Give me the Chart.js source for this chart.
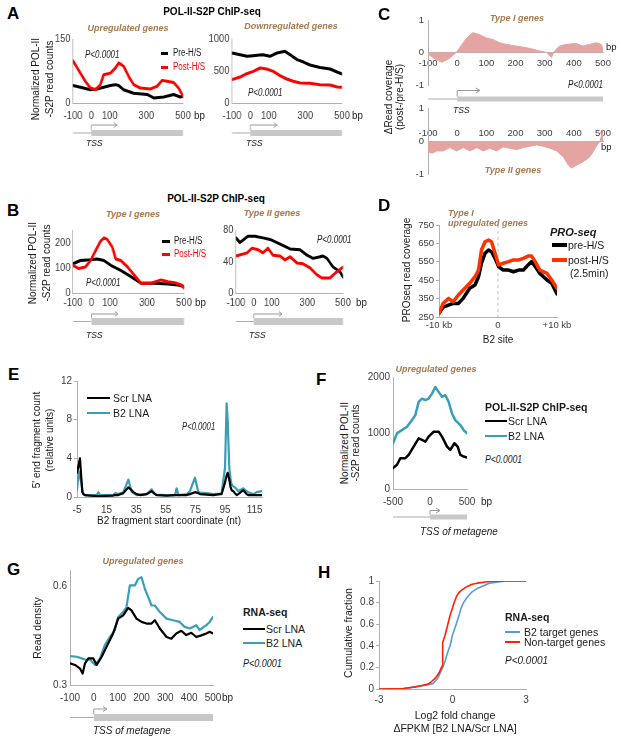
<!DOCTYPE html>
<html>
<head>
<meta charset="utf-8">
<script src="https://cdn.jsdelivr.net/npm/chart.js@4.4.1/dist/chart.umd.min.js"></script>
<style>
html, body { margin: 0; padding: 0; background: #fff; }
#fig { position: relative; width: 621px; height: 743px; overflow: hidden; background: #fff; font-family: Arial, "Liberation Sans", sans-serif; }
#fig canvas { position: absolute; }
.t { position: absolute; white-space: nowrap; line-height: 1; }
</style>
</head>
<body>
<div id="fig"></div>
<script>
// ---- data: panel A (POL-II-S2P, upregulated / downregulated) ----
const A_X_TICKS = [-100, 0, 100, 300, 500];
const A1_Y_TICKS = [0, 150];
const A1_X_POST = [-100, -60, -33, -5, 22, 49, 67, 104, 131, 149, 176, 204, 231, 267, 322, 358, 386, 413, 449, 476, 500];
const A1_POST = [99, 70, 51, 35, 31, 43, 66, 70, 82, 94, 86, 62, 43, 35, 33, 39, 53, 51, 48, 35, 16];
const A1_X_PRE = [-100, -60, -5, 31, 67, 104, 131, 149, 176, 231, 304, 340, 395, 449, 485, 500];
const A1_PRE = [41, 37, 31, 33, 37, 41, 43, 41, 31, 23, 20, 12, 14, 20, 14, 16];
const A2_Y_TICKS = [0, 500, 1000];
const A2_X_PRE = [-100, -56, -18, 15, 50, 69, 107, 145, 189, 216, 255, 290, 325, 380, 435, 473, 500];
const A2_PRE = [781, 755, 729, 740, 750, 755, 729, 781, 807, 755, 677, 640, 594, 555, 531, 484, 453];
const A2_X_POST = [-100, -56, -20, 16, 53, 89, 125, 162, 198, 234, 271, 325, 380, 435, 473, 500];
const A2_POST = [365, 406, 458, 495, 547, 531, 495, 427, 375, 339, 313, 310, 286, 281, 250, 245];

// ---- panel B (type I / type II genes) ----
const B1_Y_TICKS = [0, 100, 200];
const B1_X_POST = [-100, -69, -33, -5, 22, 49, 67, 85, 113, 131, 158, 195, 231, 267, 322, 376, 413, 449, 485, 500];
const B1_POST = [110, 97, 103, 129, 168, 206, 219, 213, 181, 135, 129, 103, 71, 39, 39, 52, 45, 41, 32, 19];
const B1_X_PRE = [-100, -60, -5, 31, 67, 104, 158, 213, 267, 340, 413, 467, 500];
const B1_PRE = [116, 129, 132, 135, 129, 110, 90, 65, 39, 39, 36, 32, 26];
const B2_Y_TICKS = [0, 40, 80];
const B2_X_PRE = [-100, -78, -33, 6, 51, 91, 147, 203, 259, 298, 332, 371, 388, 410, 444, 483, 500];
const B2_PRE = [70, 64, 72, 72, 70, 68, 62, 56, 55, 48, 44, 46, 47, 44, 33, 27, 20];
const B2_X_POST = [-100, -38, -10, 23, 51, 79, 107, 147, 175, 203, 242, 276, 315, 354, 382, 427, 455, 500];
const B2_POST = [47, 51, 57, 55, 51, 57, 48, 47, 42, 46, 38, 37, 32, 23, 19, 19, 25, 33];

// ---- panel C (difference post - pre) ----
const C_X_TICKS = [-100, 0, 100, 200, 300, 400, 500];
const C_Y_TICKS = [-1, 0, 1];
const C1_X = [-100, -75, -53, -30, -3, 31, 54, 77, 100, 123, 145, 168, 202, 237, 260, 283, 306, 323, 334, 351, 374, 408, 431, 454, 477, 494, 500];
const C1_Y = [-0.05, -0.2, -0.3, -0.2, 0, 0.43, 0.61, 0.55, 0.45, 0.4, 0.3, 0.25, 0.2, 0.15, 0.1, 0.05, 0, -0.15, 0.05, 0.2, 0.25, 0.28, 0.2, 0.25, 0.3, 0.25, 0.1];
const C2_X = [-100, -85, -70, -48, -25, -2, 21, 44, 67, 90, 112, 135, 158, 181, 204, 227, 250, 272, 295, 318, 341, 364, 381, 392, 410, 432, 455, 478, 490, 500];
const C2_Y = [-0.33, -0.37, -0.3, -0.3, -0.2, -0.3, -0.2, -0.3, -0.2, -0.3, -0.22, -0.3, -0.18, -0.22, -0.26, -0.2, -0.16, -0.12, -0.16, -0.22, -0.3, -0.48, -0.73, -0.82, -0.73, -0.63, -0.48, -0.15, 0, 0.35];

// ---- panel D (PRO-seq around B2 site, kb) ----
const D_X_TICKS = [-10, 0, 10];
const D_X_LABELS = ['-10 kb', '0', '+10 kb'];
const D_Y_TICKS = [250, 350, 450, 550, 650, 750];
const D_X = [-10, -9.3, -8.4, -7.6, -6.7, -5.9, -4.8, -3.9, -3.3, -2.8, -2.2, -1.6, -1.1, -0.5, 0.1, 0.9, 1.8, 2.6, 3.5, 4.3, 5.1, 5.7, 6.3, 7.1, 8.3, 9.1, 10];
const D_PRE = [270, 303, 315, 324, 324, 351, 406, 424, 469, 542, 596, 614, 605, 569, 524, 505, 505, 496, 505, 505, 533, 551, 524, 487, 451, 433, 375];
const D_POST = [270, 324, 351, 333, 370, 397, 433, 469, 505, 614, 659, 668, 659, 596, 533, 542, 551, 560, 560, 569, 581, 581, 551, 505, 487, 451, 406];

// ---- panel E (5' end fragment counts) ----
const E_X_TICKS = [-5, 15, 35, 55, 75, 95, 115];
const E_Y_TICKS = [0, 4, 8, 12];
const E_X = [-5, -3.9, -3, -2.1, -1.4, -0.7, 0.4, 3.8, 8.3, 9.4, 10.5, 19.5, 20.7, 22.9, 26.3, 29.7, 32, 33.1, 35.3, 37.6, 42.1, 45.4, 47.7, 48.8, 55.6, 61.2, 62.3, 63.5, 69.1, 71.3, 74.7, 77, 78.1, 82.6, 87.1, 91.6, 92.7, 95, 96.1, 96.8, 97.9, 98.8, 99.5, 100.6, 101.7, 102.9, 104, 107.4, 109.6, 110.7, 114.1, 116.4, 119.8];
const E_B2 = [0.7, 2.6, 2.0, 1.5, 0.8, 0.3, 0.2, 0.2, 0.2, 0.5, 0.2, 0.2, 0.4, 0.3, 0.5, 1.8, 0.5, 0.4, 0.2, 0.25, 0.3, 0.8, 0.3, 0.25, 0.2, 0.2, 0.9, 0.2, 0.3, 0.6, 2.0, 0.5, 0.45, 0.4, 0.3, 0.35, 0.4, 3.0, 9.7, 8.0, 3.0, 1.8, 1.3, 1.1, 1.0, 0.8, 0.6, 0.9, 0.6, 0.5, 0.3, 0.5, 0.6];
const E_SCR = [2.5, 3.3, 4.0, 2.0, 0.5, 0.3, 0.2, 0.15, 0.1, 0.1, 0.1, 0.15, 0.2, 0.2, 0.4, 1.0, 0.7, 0.5, 0.3, 0.2, 0.3, 0.6, 0.3, 0.2, 0.15, 0.2, 0.2, 0.2, 0.2, 0.3, 0.5, 0.4, 0.3, 0.25, 0.2, 0.3, 0.3, 1.5, 2.2, 2.5, 1.8, 1.0, 0.7, 0.6, 0.4, 0.2, 0.3, 0.7, 0.3, 0.2, 0.2, 0.2, 0.2];

// ---- panel F (POL-II-S2P, LNA) ----
const F_X_TICKS = [-500, 0, 500];
const F_Y_TICKS = [0, 1000, 2000];
const F_X_B2 = [-500, -446, -378, -311, -243, -198, -153, -108, -63, -18, 27, 72, 117, 162, 207, 252, 297, 342, 410, 455, 500];
const F_B2 = [817, 994, 1053, 1112, 1231, 1320, 1556, 1615, 1586, 1615, 1704, 1822, 1734, 1645, 1675, 1556, 1349, 1231, 1142, 1053, 994];
const F_X_SCR = [-500, -446, -401, -333, -288, -221, -153, -108, -63, -18, 50, 117, 162, 230, 275, 329, 374, 410, 455, 500];
const F_SCR = [373, 432, 550, 550, 609, 757, 905, 876, 846, 935, 1024, 1024, 935, 757, 698, 817, 757, 609, 580, 562];

// ---- panel G (RNA-seq read density) ----
const G_X_TICKS = [-100, 0, 100, 200, 300, 400, 500];
const G_Y_TICKS = [0.3, 0.6];
const G_X_B2 = [-100, -72, -51, -30, -16, 5, 26, 46, 67, 88, 102, 123, 137, 151, 172, 186, 200, 214, 228, 242, 256, 277, 305, 332, 360, 381, 402, 430, 444, 461, 472, 486, 500];
const G_B2 = [0.388, 0.386, 0.381, 0.376, 0.378, 0.361, 0.381, 0.421, 0.446, 0.467, 0.507, 0.522, 0.537, 0.603, 0.603, 0.623, 0.628, 0.593, 0.568, 0.542, 0.542, 0.522, 0.502, 0.497, 0.492, 0.477, 0.472, 0.482, 0.467, 0.477, 0.482, 0.492, 0.507];
const G_X_SCR = [-100, -79, -58, -47, -37, -23, -2, 12, 33, 53, 81, 102, 123, 144, 158, 179, 200, 221, 242, 256, 277, 305, 325, 346, 367, 388, 409, 430, 451, 472, 486, 500];
const G_SCR = [0.366, 0.361, 0.350, 0.335, 0.366, 0.381, 0.381, 0.361, 0.386, 0.416, 0.457, 0.502, 0.512, 0.535, 0.527, 0.502, 0.492, 0.487, 0.487, 0.497, 0.472, 0.446, 0.441, 0.457, 0.465, 0.452, 0.459, 0.446, 0.451, 0.457, 0.462, 0.457];

// ---- panel H (cumulative fraction) ----
const H_X_TICKS = [-3, 0, 3];
const H_Y_TICKS = [0, 0.2, 0.4, 0.6, 0.8, 1];
const H_X_RED = [-3, -2, -1.5, -1.2, -1, -0.9, -0.7, -0.55, -0.45, -0.4, -0.4, -0.3, -0.2, -0.1, 0, 0.05, 0.15, 0.25, 0.4, 0.6, 0.8, 1.0, 1.5, 2, 3];
const H_RED = [0, 0.005, 0.02, 0.035, 0.045, 0.06, 0.1, 0.15, 0.2, 0.22, 0.43, 0.5, 0.59, 0.68, 0.75, 0.79, 0.85, 0.89, 0.92, 0.95, 0.97, 0.98, 0.995, 1, 1];
const H_X_BLUE = [-3, -2, -1.5, -1, -0.8, -0.6, -0.5, -0.4, -0.3, -0.25, -0.15, -0.1, 0, 0.15, 0.29, 0.35, 0.45, 0.6, 0.8, 1.0, 1.2, 1.5, 2.2, 3];
const H_BLUE = [0, 0.005, 0.02, 0.04, 0.05, 0.1, 0.15, 0.2, 0.26, 0.3, 0.37, 0.4, 0.5, 0.6, 0.7, 0.75, 0.8, 0.85, 0.9, 0.93, 0.95, 0.98, 1, 1];

// ---- styles ----
const RED = '#ff0000';
const TEAL = '#3a9fb6';
const PINK = '#e3a4a2';
const AXIS = '#b0b0b0';
const TICK = '#3c3c3c';
const BROWN = '#a47a4e';

Chart.defaults.animation = false;
Chart.defaults.responsive = false;
Chart.defaults.font.family = 'Arial, "Liberation Sans", sans-serif';
Chart.defaults.plugins.legend.display = false;
Chart.defaults.plugins.tooltip.enabled = false;
Chart.defaults.elements.point.radius = 0;
Chart.defaults.elements.line.tension = 0;

const fig = document.getElementById('fig');

function xy(xs, ys) {
    return xs.map((x, i) => ({ x: x, y: ys[i] }));
}

function ds(xs, ys, color, width) {
    return { data: xy(xs, ys), borderColor: color, borderWidth: width, fill: false, borderJoinStyle: 'round', borderCapStyle: 'round' };
}

function scale(min, max, ticks, o = {}) {
    const s = {
        type: 'linear', min: min, max: max,
        afterBuildTicks: sc => { sc.ticks = ticks.map(v => ({ value: v })); },
        grid: { drawOnChartArea: false, drawTicks: !!o.tick, tickLength: o.tick || 0, color: AXIS },
        border: { display: true, color: AXIS, width: 1 },
        ticks: { color: TICK, font: { size: o.size || 10 }, padding: o.pad === undefined ? 3 : o.pad,
                 autoSkip: false, maxRotation: 0, callback: o.fmt || (v => String(v)) }
    };
    if (o.pos) s.position = o.pos;
    return s;
}

// gene model under the x axis: thin line upstream, grey box from TSS, bent arrow
const genePlugin = {
    id: 'gene',
    afterDraw(chart, args, o) {
        if (o.off === undefined) return;
        const ctx = chart.ctx, a = chart.chartArea, x = chart.scales.x;
        const x0 = x.getPixelForValue(0), x1 = x.getPixelForValue(o.arrow);
        const yc = a.bottom + o.off, top = yc - o.h / 2, ya = top - o.up;
        ctx.save();
        ctx.strokeStyle = '#ababab';
        ctx.lineWidth = 1;
        ctx.beginPath(); ctx.moveTo(a.left, yc); ctx.lineTo(x0, yc); ctx.stroke();
        ctx.fillStyle = '#c8c8c8';
        ctx.fillRect(x0, top, a.right - x0, o.h);
        ctx.strokeStyle = '#999999';
        ctx.beginPath(); ctx.moveTo(x0, top); ctx.lineTo(x0, ya); ctx.lineTo(x1, ya); ctx.stroke();
        ctx.beginPath(); ctx.moveTo(x1 - 4, ya - 2.5); ctx.lineTo(x1, ya); ctx.lineTo(x1 - 4, ya + 2.5); ctx.stroke();
        ctx.restore();
    }
};

// dashed line at the B2 site
const zeroLine = {
    id: 'zeroLine',
    beforeDatasetsDraw(chart) {
        const ctx = chart.ctx, a = chart.chartArea;
        const px = chart.scales.x.getPixelForValue(0);
        ctx.save();
        ctx.setLineDash([3, 3]);
        ctx.strokeStyle = '#bdbdbd';
        ctx.lineWidth = 1;
        ctx.beginPath(); ctx.moveTo(px, a.top); ctx.lineTo(px, a.bottom); ctx.stroke();
        ctx.restore();
    }
};

// area = [left, top, right, bottom] of the plot area on the page, pad = canvas margin around it
function makeChart(area, pad, sx, datasets, scales, extra = {}) {
    const [L, T, R, B] = area;
    const pageW = R - L + pad[0] + pad[2];
    const h = B - T + pad[1] + pad[3];
    const w = Math.round(pageW / sx);
    const k = pageW / w;
    const c = document.createElement('canvas');
    c.width = w;
    c.height = h;
    c.style.left = (L - pad[0]) + 'px';
    c.style.top = (T - pad[1]) + 'px';
    c.style.width = pageW + 'px';
    c.style.height = h + 'px';
    fig.appendChild(c);
    const padL = pad[0] / k, areaW = (R - L) / k;
    const xFloat = typeof scales.x.position === 'object';
    // the y axis box takes the whole left margin, the x axis box the bottom margin
    scales.y.afterFit = sc => { sc.width = padL; sc.paddingTop = sc.paddingBottom = 0; };
    scales.x.afterFit = sc => { sc.height = pad[3]; sc.paddingLeft = sc.paddingRight = 0; };
    return new Chart(c, {
        type: 'line',
        data: { datasets: datasets },
        options: {
            layout: { padding: { left: 0, top: pad[1], right: w - padL - areaW, bottom: xFloat ? pad[3] : 0 } },
            scales: scales,
            plugins: extra.opts || {}
        },
        plugins: extra.use || []
    });
}

// A
makeChart([73, 39, 183, 103], [40, 10, 16, 45], 0.82,
    [ds(A1_X_POST, A1_POST, RED, 3), ds(A1_X_PRE, A1_PRE, '#000', 3)],
    { x: scale(-100, 500, A_X_TICKS, { size: 11.5, pad: 6.2 }), y: scale(0, 150, A1_Y_TICKS, { size: 11.5, pad: 3 }) },
    { use: [genePlugin], opts: { gene: { off: 30, h: 6, up: 5, arrow: 140 } } });
makeChart([232, 39, 342, 103], [35, 10, 16, 45], 0.82,
    [ds(A2_X_POST, A2_POST, RED, 3), ds(A2_X_PRE, A2_PRE, '#000', 3)],
    { x: scale(-100, 500, A_X_TICKS, { size: 11.5, pad: 6.2 }), y: scale(0, 1000, A2_Y_TICKS, { size: 11.5, pad: 3 }) },
    { use: [genePlugin], opts: { gene: { off: 30, h: 6, up: 5, arrow: 145 } } });

// B
makeChart([73, 230, 184, 293], [40, 10, 16, 45], 0.82,
    [ds(B1_X_POST, B1_POST, RED, 3), ds(B1_X_PRE, B1_PRE, '#000', 3)],
    { x: scale(-100, 500, A_X_TICKS, { size: 11.5, pad: 3.2 }), y: scale(0, 250, B1_Y_TICKS, { size: 11.5, pad: 3 }) },
    { use: [genePlugin], opts: { gene: { off: 28.5, h: 7, up: 4, arrow: 143 } } });
makeChart([236, 230, 343, 293], [35, 10, 16, 45], 0.82,
    [ds(B2_X_POST, B2_POST, RED, 3), ds(B2_X_PRE, B2_PRE, '#000', 3)],
    { x: scale(-100, 500, A_X_TICKS, { size: 11.5, pad: 3.2 }), y: scale(0, 80, B2_Y_TICKS, { size: 11.5, pad: 3 }) },
    { use: [genePlugin], opts: { gene: { off: 28.5, h: 7, up: 4, arrow: 158 } } });

// C
const areaDs = (xs, ys) => ({ data: xy(xs, ys), borderColor: PINK, borderWidth: 1, backgroundColor: PINK, fill: 'origin' });
makeChart([428, 20, 603, 85], [25, 10, 15, 20], 1,
    [areaDs(C1_X, C1_Y)],
    { x: scale(-100, 500, C_X_TICKS, { size: 9.5, pad: 5.3, pos: { y: 0 } }), y: scale(-1, 1, C_Y_TICKS, { size: 9.5, pad: 4 }) },
    { use: [genePlugin], opts: { gene: { off: 14, h: 5, up: 6, arrow: 78 } } });
makeChart([428, 108, 603, 174], [25, 10, 15, 10], 1,
    [areaDs(C2_X, C2_Y)],
    { x: scale(-100, 500, C_X_TICKS, { size: 9.5, pad: -13.7, pos: { y: 0 } }), y: scale(-1, 1, C_Y_TICKS, { size: 9.5, pad: 4 }) });

// D
makeChart([439, 225, 557, 317], [35, 8, 20, 15], 1,
    [ds(D_X, D_POST, '#ff3300', 3.5), ds(D_X, D_PRE, '#000', 3.5)],
    { x: scale(-10, 10, D_X_TICKS, { size: 9.5, pad: 2.3, fmt: (v, i) => D_X_LABELS[i] }),
      y: scale(250, 750, D_Y_TICKS, { size: 9.5, pad: 2, tick: 3 }) },
    { use: [zeroLine] });

// E
makeChart([77, 381, 262, 497], [35, 8, 12, 20], 1,
    [ds(E_X, E_SCR, '#000', 2.2), ds(E_X, E_B2, TEAL, 2.2)],
    { x: scale(-5, 120, E_X_TICKS, { size: 10, pad: 7 }), y: scale(0, 12, E_Y_TICKS, { size: 10, pad: 2, tick: 3 }) });

// F
makeChart([393, 377, 467, 489], [40, 8, 14, 45], 1,
    [ds(F_X_B2, F_B2, TEAL, 2.5), ds(F_X_SCR, F_SCR, '#000', 2.5)],
    { x: scale(-500, 500, F_X_TICKS, { size: 10, pad: 7 }), y: scale(0, 2000, F_Y_TICKS, { size: 10, pad: 3 }) },
    { use: [genePlugin], opts: { gene: { off: 28, h: 5, up: 4, arrow: 135 } } });

// G
makeChart([70, 570, 213, 685], [40, 8, 14, 45], 1,
    [ds(G_X_SCR, G_SCR, '#000', 2.2), ds(G_X_B2, G_B2, TEAL, 2.2)],
    { x: scale(-100, 500, G_X_TICKS, { size: 10, pad: 7 }), y: scale(0.3, 0.65, G_Y_TICKS, { size: 10, pad: 3 }) },
    { use: [genePlugin], opts: { gene: { off: 32.5, h: 7, up: 5, arrow: 55 } } });

// H
makeChart([379, 581, 526, 689], [30, 8, 12, 20], 1,
    [ds(H_X_RED, H_RED, '#ff2200', 1.6), ds(H_X_BLUE, H_BLUE, '#5b9bd5', 1.6)],
    { x: scale(-3, 3, H_X_TICKS, { size: 10, pad: 5 }), y: scale(0, 1, H_Y_TICKS, { size: 10, pad: 2, tick: 3 }) });

// ---- text ----
function txt(s, x, y, o = {}) {
    const d = document.createElement('div');
    d.className = 't';
    d.textContent = s;
    const sx = o.sx || 1;
    if (o.rot) {
        d.style.transform = 'translate(-50%,-50%) rotate(-90deg)';
    } else if (o.c) {
        d.style.transform = 'translate(-50%,-50%) scaleX(' + sx + ')';
    } else {
        d.style.transform = 'translateY(-50%) scaleX(' + sx + ')';
        d.style.transformOrigin = 'left center';
    }
    d.style.left = x + 'px';
    d.style.top = y + 'px';
    d.style.fontSize = (o.size || 10) + 'px';
    d.style.fontWeight = o.b ? 'bold' : 'normal';
    d.style.fontStyle = o.i ? 'italic' : 'normal';
    d.style.color = o.color || '#1a1a1a';
    fig.appendChild(d);
}

function key(x1, x2, y, color, w) {
    const d = document.createElement('div');
    d.style.cssText = 'position:absolute;left:' + x1 + 'px;top:' + (y - w / 2) + 'px;width:' + (x2 - x1) + 'px;height:' + w + 'px;background:' + color;
    fig.appendChild(d);
}

// panel letters
[['A', 7, 13], ['B', 7, 210], ['C', 378, 14], ['D', 378, 205], ['E', 8, 374], ['F', 316, 379], ['G', 7, 569], ['H', 318, 572]]
    .forEach(p => txt(p[0], p[1], p[2], { size: 17, b: true, color: '#000' }));

// titles
txt('POL-II-S2P ChIP-seq', 212, 12, { c: true, b: true, size: 10, color: '#000' });
txt('POL-II-S2P ChIP-seq', 216, 199, { c: true, b: true, size: 10, color: '#000' });
const brown = { c: true, b: true, i: true, size: 9, color: BROWN };
txt('Upregulated genes', 128, 28, brown);
txt('Downregulated genes', 291, 26, brown);
txt('Type I genes', 133, 214, brown);
txt('Type II genes', 272, 213, brown);
txt('Type I genes', 517, 18, brown);
txt('Type II genes', 513, 170, brown);
txt('Type I', 448, 213, { b: true, i: true, size: 9, color: BROWN });
txt('upregulated genes', 448, 223, { b: true, i: true, size: 9, color: BROWN });
txt('Upregulated genes', 436, 369, brown);
txt('Upregulated genes', 143, 561, brown);

// p-values
[[85, 55, 0.8], [248, 93, 0.8], [86, 283, 0.8], [317, 240, 0.8], [568, 85, 0.81], [182, 427, 0.77], [485, 460, 0.86], [243, 664, 0.9], [505, 661, 1]]
    .forEach(p => txt('P<0.0001', p[0], p[1], { i: true, size: 10, sx: p[2] }));

// legends
key(161, 168, 53, '#000', 3); txt('Pre-H/S', 173, 53, { size: 10, sx: 0.8 });
key(161, 168, 67, RED, 3); txt('Post-H/S', 173, 67, { size: 10, sx: 0.8, color: RED });
key(162, 170, 241, '#000', 3); txt('Pre-H/S', 174, 241, { size: 10, sx: 0.8 });
key(162, 170, 254, RED, 3); txt('Post-H/S', 174, 254, { size: 10, sx: 0.8, color: RED });
txt('PRO-seq', 550, 232, { b: true, i: true, size: 11 });
key(552, 567, 245, '#000', 4); txt('pre-H/S', 568, 245, { size: 10.5 });
key(552, 567, 260, '#ff3300', 4); txt('post-H/S', 568, 260, { size: 10.5 });
txt('(2.5min)', 570, 273, { size: 10.5 });
key(87, 110, 398, '#000', 2.5); txt('Scr LNA', 113, 398, { size: 10.5 });
key(87, 110, 413, TEAL, 2.5); txt('B2 LNA', 113, 413, { size: 10.5 });
txt('POL-II-S2P ChIP-seq', 485, 407, { b: true, size: 10.5 });
key(485, 507, 421, '#000', 2.5); txt('Scr LNA', 508, 421, { size: 10.5 });
key(485, 507, 436, TEAL, 2.5); txt('B2 LNA', 508, 436, { size: 10.5 });
txt('RNA-seq', 243, 612, { b: true, size: 10.5 });
key(243, 265, 629, '#000', 2.5); txt('Scr LNA', 266, 629, { size: 10.5 });
key(243, 265, 643, TEAL, 2.5); txt('B2 LNA', 266, 643, { size: 10.5 });
txt('RNA-seq', 505, 617, { b: true, size: 10.5 });
key(505, 520, 632, '#5b9bd5', 2.5); txt('B2 target genes', 524, 632, { size: 10.5 });
key(505, 520, 642, '#ff2200', 2.5); txt('Non-target genes', 524, 642, { size: 10.5 });

// axis titles
const rot = { rot: true, size: 10 };
txt('Normalized POL-II', 36, 79, rot); txt('-S2P read counts', 50, 79, rot);
txt('Normalized POL-II', 33, 263, rot); txt('-S2P read counts', 47, 263, rot);
txt('\u0394Read coverage', 389, 97, rot); txt('(post-/pre-H/S)', 400, 97, rot);
txt('PROseq read coverage', 407, 270, rot);
txt("5' end fragment count", 37, 440, rot); txt('(relative units)', 50, 440, rot);
txt('Normalized POL-II', 345, 443, rot); txt('-S2P read counts', 356, 443, rot);
txt('Read density', 37, 628, { rot: true, size: 10.5 });
txt('Cumulative fraction', 348, 633, { rot: true, size: 10.5 });
txt('B2 site', 498, 340, { c: true, size: 10 });
txt('B2 fragment start coordinate (nt)', 169, 521, { c: true, size: 10 });
txt('Log2 fold change', 455, 715, { c: true, size: 10.5 });
txt('\u0394FPKM [B2 LNA/Scr LNA]', 455, 728, { c: true, size: 10.5 });

// bp units
txt('bp', 194, 116, { size: 11.5, sx: 0.85 });
txt('bp', 352, 116, { size: 11.5, sx: 0.85 });
txt('bp', 195, 303, { size: 11.5, sx: 0.85 });
txt('bp', 356, 303, { size: 11.5, sx: 0.85 });
txt('bp', 606, 47, { size: 9.5 });
txt('bp', 601, 147, { size: 9.5 });
txt('bp', 481, 502, { size: 10 });
txt('bp', 222, 698, { size: 10 });

// TSS labels
const tss = { i: true, size: 9.5, sx: 0.9 };
txt('TSS', 86, 143, tss);
txt('TSS', 246, 143, tss);
txt('TSS', 86, 335, tss);
txt('TSS', 249, 335, tss);
txt('TSS', 453, 110, tss);
txt('TSS of metagene', 420, 532, { i: true, size: 10 });
txt('TSS of metagene', 93, 731, { i: true, size: 10 });
</script>
</body>
</html>
